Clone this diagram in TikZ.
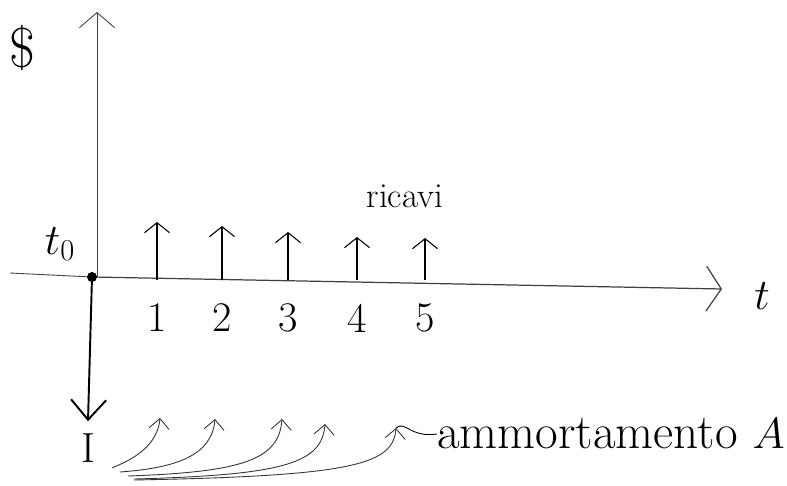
\documentclass[tikz,border=0pt]{standalone}
\usepackage{amsmath}
\usetikzlibrary{arrows.meta,calc}

\begin{document}
\begin{tikzpicture}[
  x=0.02cm, y=-0.02cm,
  axis/.style={line width=0.5pt, black!75},
  arrow/.style={-{Straight Barb[length=2mm, width=5mm]}, line width=0.6pt},
  quota/.style={-{Straight Barb[length=2mm, width=4mm]}, line width=0.5pt, black!80},
  lbl/.style={inner sep=0pt, font=\fontsize{24}{28}\selectfont},
  small/.style={inner sep=0pt, font=\fontsize{20}{24}\selectfont}
]
\useasboundingbox (0,0) rectangle (787,486);

% axes
\coordinate (o) at (92,277);
\coordinate (ytop) at (97,12);
\coordinate (xl) at (10,273);
\coordinate (xr) at (722,289);
\draw[axis, -{Straight Barb[length=3mm, width=7mm]}] (97,277) -- (ytop);
\draw[axis] (xl) -- (o);
\draw[axis, -{Straight Barb[length=3mm, width=9mm]}, line width=0.7pt] (o) -- (xr);
\fill (o) circle (5);

\node[lbl] (dollar) at (22,48) {\fontsize{32}{34}\selectfont\$};
\node[lbl] (tlab) at (762,296) {$t$};
\node[lbl] (tzero) at (60,244) {$t_0$};
\node[small] (ricavi) at (405,196) {ricavi};

% revenues at t = 1..5
\foreach \k/\x/\yt in {1/157/222, 2/222/226, 3/288/232, 4/357/237, 5/425/238} {
  \coordinate (b\k) at (\x,280);
  \coordinate (h\k) at (\x,\yt);
  \draw[arrow] (b\k) -- (h\k);
  \node[lbl] (n\k) at (\x,318) {\k};
}

% investment
\node[lbl] (inv) at (88,448) {I};
\draw[-{Straight Barb[length=4mm, width=7mm]}, line width=1.1pt] (o) -- ($(inv.north)+(0,-12)$);

% depreciation
\node[lbl, anchor=east, font=\fontsize{28}{32}\selectfont] (amm) at (785,434) {ammortamento $A$};
\foreach \k/\sx/\sy/\ex/\ey in {1/112/468/160/418, 2/120/472/215/419, 3/128/476/282/419, 4/134/479/325/424, 5/134/480/396/428} {
  \coordinate (s\k) at (\sx,\sy);
  \coordinate (q\k) at (\ex,\ey);
  \draw[quota] (s\k) .. controls ($(q\k|-s\k)+(-40,-4)$) and ($(q\k|-s\k)+(-3,-16)$) .. (q\k);
}
\draw[line width=0.5pt] (q5) .. controls (405,420) and (410,438) .. (amm.west);
\end{tikzpicture}
\end{document}
